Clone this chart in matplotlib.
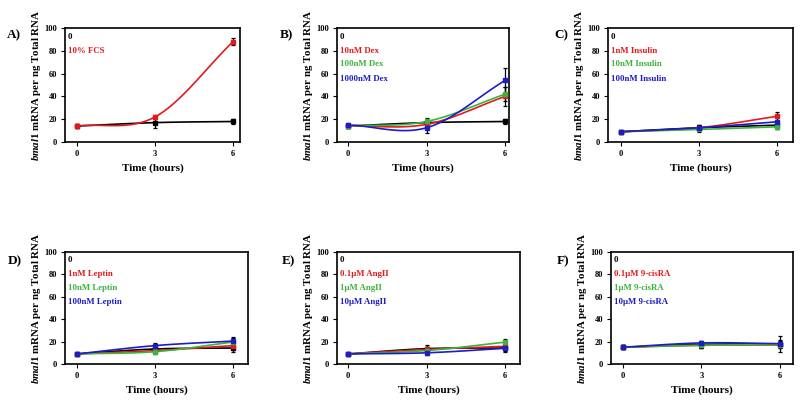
import numpy as np
import matplotlib
matplotlib.use("Agg")
import matplotlib.pyplot as plt
from matplotlib.transforms import offset_copy

plt.rcParams['font.family'] = ['Liberation Serif', 'DejaVu Serif']
plt.rcParams['font.weight'] = 'bold'
plt.rcParams['mathtext.fontset'] = 'custom'
plt.rcParams['mathtext.it'] = 'Liberation Serif:italic:bold'
plt.rcParams['mathtext.rm'] = 'Liberation Serif:bold'

# ---- data ----
time_h = [0, 3, 6]
panel_letters = ["A)", "B)", "C)", "D)", "E)", "F)"]

# control (0) in every panel
ctrl_A = [14, 17, 18];   ctrl_A_err = [2, 5, 2]
ctrl_B = [14, 17, 18];   ctrl_B_err = [2, 3, 2]
ctrl_C = [9, 12.5, 14.8]; ctrl_C_err = [1, 2, 3]
ctrl_D = [9, 13.4, 14.3]; ctrl_D_err = [1, 2, 4]
ctrl_E = [9, 13.7, 14.3]; ctrl_E_err = [1, 3, 3]
ctrl_F = [15, 17.5, 18];  ctrl_F_err = [2, 3, 7]

# treatments
labels_A = ["10% FCS"]
vals_A = [[14, 22, 88]]
errs_A = [[2, 2, 3]]

labels_B = ["10nM Dex", "100nM Dex", "1000nM Dex"]
vals_B = [[14, 15.5, 40], [14, 18, 42], [15, 12.5, 54]]
errs_B = [[2, 2, 8], [2, 3, 6], [2, 5, 11]]

labels_C = ["1nM Insulin", "10nM Insulin", "100nM Insulin"]
vals_C = [[9, 12.5, 22.5], [9, 11, 13.3], [9, 12.5, 17.7]]
errs_C = [[1, 2, 4], [1, 2, 2], [1, 2, 3]]

labels_D = ["1nM Leptin", "10nM Leptin", "100nM Leptin"]
vals_D = [[9, 12, 16.4], [9, 11, 19.6], [9, 16.4, 20.5]]
errs_D = [[1, 2, 3], [1, 2, 4], [1, 2, 4]]

labels_E = ["0.1\u03bcM AngII", "1\u03bcM AngII", "10\u03bcM AngII"]
vals_E = [[9, 13, 15.8], [9, 12, 19.5], [9, 10, 14]]
errs_E = [[1, 2, 3], [1, 2, 3], [1, 2, 3]]

labels_F = ["0.1\u03bcM 9-cisRA", "1\u03bcM 9-cisRA", "10\u03bcM 9-cisRA"]
vals_F = [[15, 16.7, 17], [15, 16.7, 17.3], [15, 18.8, 18.2]]
errs_F = [[2, 2, 3], [2, 2, 3], [2, 2, 3]]

colors = ["#e31a1c", "#3cb43c", "#1c1cc8"]

panels = [
    (ctrl_A, ctrl_A_err, labels_A, vals_A, errs_A),
    (ctrl_B, ctrl_B_err, labels_B, vals_B, errs_B),
    (ctrl_C, ctrl_C_err, labels_C, vals_C, errs_C),
    (ctrl_D, ctrl_D_err, labels_D, vals_D, errs_D),
    (ctrl_E, ctrl_E_err, labels_E, vals_E, errs_E),
    (ctrl_F, ctrl_F_err, labels_F, vals_F, errs_F),
]

# pixel boxes (left, right, top, bottom) and xlims
W, H = 800, 405
boxes = [(65, 240, 28, 142), (337, 509, 28, 142), (608, 793, 28, 142),
         (65, 248, 252, 364), (337, 520, 252, 364), (611, 793, 252, 364)]
xlims = [(-0.46, 6.27), (-0.42, 6.15), (-0.5, 6.62),
         (-0.46, 6.58), (-0.42, 6.57), (-0.46, 6.5)]
letter_pos = [(14, 35), (286, 35), (561, 35), (15, 261), (288, 261), (563, 261)]


def smooth(x, y, n=60):
    """Catmull-Rom style cubic Hermite smoothing through the points."""
    x = np.asarray(x, float); y = np.asarray(y, float)
    m = np.zeros_like(y)
    m[0] = (y[1] - y[0]) / (x[1] - x[0])
    m[-1] = (y[-1] - y[-2]) / (x[-1] - x[-2])
    for i in range(1, len(x) - 1):
        m[i] = (y[i + 1] - y[i - 1]) / (x[i + 1] - x[i - 1])
    xs, ys = [], []
    for i in range(len(x) - 1):
        h = x[i + 1] - x[i]
        t = np.linspace(0, 1, n)
        h00 = 2 * t**3 - 3 * t**2 + 1
        h10 = t**3 - 2 * t**2 + t
        h01 = -2 * t**3 + 3 * t**2
        h11 = t**3 - t**2
        xs.append(x[i] + t * h)
        ys.append(h00 * y[i] + h10 * h * m[i] + h01 * y[i + 1] + h11 * h * m[i + 1])
    return np.concatenate(xs), np.concatenate(ys)


fig = plt.figure(figsize=(8, 4.05), dpi=100)

for k, (ctrl, cerr, labs, vals, errs) in enumerate(panels):
    l, r, t, b = boxes[k]
    ax = fig.add_axes([l / W, 1 - b / H, (r - l) / W, (b - t) / H])
    series = [(ctrl, cerr, "black")] + [(v, e, colors[i]) for i, (v, e) in enumerate(zip(vals, errs))]
    for v, e, c in series:
        sx, sy = smooth(time_h, v)
        ax.plot(sx, sy, color=c, lw=1.2, zorder=3)
        ax.errorbar(time_h, v, yerr=e, fmt="none", ecolor="black", elinewidth=0.9,
                    capsize=1.6, capthick=0.9, zorder=4)
        ax.plot(time_h, v, "s", color=c, ms=2.6, mec=c, zorder=5)
    ax.set_xlim(*xlims[k])
    ax.set_ylim(0, 100)
    ax.set_xticks(time_h)
    ax.set_yticks([0, 20, 40, 60, 80, 100])
    ax.tick_params(direction="out", length=3, width=0.8, labelsize=6, pad=2.5)
    for lab in ax.get_xticklabels() + ax.get_yticklabels():
        lab.set_fontweight("bold")
    for sp in ax.spines.values():
        sp.set_linewidth(1.2)
    ax.set_xlabel("Time (hours)", fontsize=8, fontweight="bold", labelpad=4)
    ax.set_ylabel(r"$\mathit{bmal1}$ mRNA per ng Total RNA", fontsize=7.8,
                  fontweight="bold", labelpad=1)
    # legend text
    tr = offset_copy(ax.transAxes, fig=fig, x=3, y=0, units="dots")
    ys_leg = [0.925, 0.80, 0.68, 0.555]
    ax.text(0, ys_leg[0], "0", color="black", fontsize=6.3, fontweight="bold",
            transform=tr, ha="left", va="center")
    for i, lab in enumerate(labs):
        ax.text(0, ys_leg[i + 1], lab, color=colors[i], fontsize=6.3, fontweight="bold",
                transform=tr, ha="left", va="center")
    lx, ly = letter_pos[k]
    fig.text(lx / W, 1 - ly / H, panel_letters[k], fontsize=9.5, fontweight="bold",
             ha="center", va="center")

fig.savefig("out.png", dpi=100)
